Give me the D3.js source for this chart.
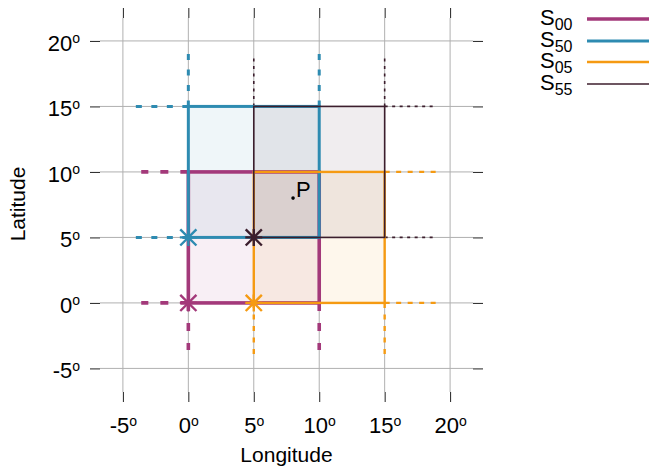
<!DOCTYPE html>
<html>
<head>
<meta charset="utf-8">
<script src="https://cdn.jsdelivr.net/npm/d3@7"></script>
<style>
	body { margin: 0; background: #fff; }
	svg text { font-family: "Liberation Sans", Arial, sans-serif; fill: #000; }
</style>
</head>
<body>
<div id="chart"></div>
<script>
// Data
const seriesNames = ['S', 'S', 'S', 'S']
const seriesSubs = ['00', '50', '05', '55']
const cellLon = [0, 0, 5, 5]      // lower-left corner longitude
const cellLat = [0, 5, 0, 5]      // lower-left corner latitude
const cellSize = 10
const extSideX = ['left', 'left', 'right', 'right']
const extSideY = ['down', 'up', 'down', 'up']
const extLength = [3.6, 4.1, 4, 3.8]
const pointP = { lon: 8, lat: 8, label: 'P' }
const tickValues = [-5, 0, 5, 10, 15, 20]

// Styles
const colors = ['#a3397a', '#2e8bb1', '#f59a12', '#3c1e2d']
const widths = [3.6, 3, 2.4, 1.6]
const dashes = ['8,12', '6,9.5', '5,6.5', '3,4.5']
const fillOpacity = 0.08

// Chart dimensions
const chartWidth = 649
const chartHeight = 470
const plotLeft = 100, plotRight = 473, plotTop = 18, plotBottom = 392

const scaleX = d3.scaleLinear().domain([-6.75, 21.75]).range([plotLeft, plotRight])
const scaleY = d3.scaleLinear().domain([-6.8, 21.75]).range([plotBottom, plotTop])

const svg = d3.select('#chart').append('svg')
	.attr('width', chartWidth)
	.attr('height', chartHeight)

// Grid
svg.append('g').selectAll('line')
	.data(tickValues).enter().append('line')
	.attr('x1', d => scaleX(d)).attr('x2', d => scaleX(d))
	.attr('y1', plotTop).attr('y2', plotBottom)
	.attr('stroke', '#b0b0b0').attr('stroke-width', 1)
svg.append('g').selectAll('line')
	.data(tickValues).enter().append('line')
	.attr('y1', d => scaleY(d)).attr('y2', d => scaleY(d))
	.attr('x1', plotLeft).attr('x2', plotRight)
	.attr('stroke', '#b0b0b0').attr('stroke-width', 1)

// Axes (outward ticks, no border)
function addDegree(sel) {
	sel.selectAll('.tick text').each(function(d) {
		let t = d3.select(this)
		t.text(null)
		t.append('tspan').text(d)
		t.append('tspan').text('o').attr('font-size', '14px').attr('dy', '-7.5')
	})
}
let axL = svg.append('g').attr('transform', `translate(${plotLeft},0)`)
	.call(d3.axisLeft(scaleY).tickValues(tickValues).tickSize(10))
axL.selectAll('.tick text').attr('font-size', '22px').attr('dy', null).attr('y', 9.5).attr('x', -20)
addDegree(axL)
let axR = svg.append('g').attr('transform', `translate(${plotRight},0)`)
	.call(d3.axisRight(scaleY).tickValues(tickValues).tickSize(10).tickFormat(''))
let axT = svg.append('g').attr('transform', `translate(0,${plotTop})`)
	.call(d3.axisTop(scaleX).tickValues(tickValues).tickSize(10).tickFormat(''))
let axB = svg.append('g').attr('transform', `translate(0,${plotBottom})`)
	.call(d3.axisBottom(scaleX).tickValues(tickValues).tickSize(10))
axB.selectAll('.tick text').attr('font-size', '22px').attr('dy', null).attr('y', 41)
addDegree(axB)
svg.selectAll('.domain').remove()
svg.selectAll('.tick line').attr('stroke', '#222')
svg.selectAll('.tick text').attr('font-family', '"Liberation Sans", Arial, sans-serif').attr('fill', '#000')

// Axis titles
svg.append('text').attr('x', (plotLeft + plotRight) / 2).attr('y', 462)
	.attr('text-anchor', 'middle').attr('font-size', '21px').text('Longitude')
svg.append('text').attr('transform', `translate(25,204) rotate(-90)`)
	.attr('text-anchor', 'middle').attr('font-size', '21px').text('Latitude')

// Cell fills
let idx = d3.range(seriesSubs.length)
svg.append('g').selectAll('rect')
	.data(idx).enter().append('rect')
	.attr('x', i => scaleX(cellLon[i]))
	.attr('y', i => scaleY(cellLat[i] + cellSize))
	.attr('width', i => scaleX(cellLon[i] + cellSize) - scaleX(cellLon[i]))
	.attr('height', i => scaleY(cellLat[i]) - scaleY(cellLat[i] + cellSize))
	.attr('fill', i => colors[i])
	.attr('fill-opacity', fillOpacity)

// Dashed extensions
idx.forEach((i) => {
	let segs = []
	let x0 = cellLon[i], x1 = cellLon[i] + cellSize
	let y0 = cellLat[i], y1 = cellLat[i] + cellSize
	// horizontal extensions along bottom and top edges
	;[y0, y1].forEach((lat) => {
		if (extSideX[i] == 'left') segs.push([x0, lat, x0 - extLength[i], lat])
		else segs.push([x1, lat, x1 + extLength[i], lat])
	})
	// vertical extensions along left and right edges
	;[x0, x1].forEach((lon) => {
		if (extSideY[i] == 'down') segs.push([lon, y0, lon, y0 - extLength[i]])
		else segs.push([lon, y1, lon, y1 + extLength[i]])
	})
	svg.append('g').selectAll('line')
		.data(segs).enter().append('line')
		.attr('x1', s => scaleX(s[0])).attr('y1', s => scaleY(s[1]))
		.attr('x2', s => scaleX(s[2])).attr('y2', s => scaleY(s[3]))
		.attr('stroke', colors[i])
		.attr('stroke-width', widths[i])
		.attr('stroke-dasharray', dashes[i])
})

// Cell outlines
svg.append('g').selectAll('rect')
	.data(idx).enter().append('rect')
	.attr('x', i => scaleX(cellLon[i]))
	.attr('y', i => scaleY(cellLat[i] + cellSize))
	.attr('width', i => scaleX(cellLon[i] + cellSize) - scaleX(cellLon[i]))
	.attr('height', i => scaleY(cellLat[i]) - scaleY(cellLat[i] + cellSize))
	.attr('fill', 'none')
	.attr('stroke', i => colors[i])
	.attr('stroke-width', i => widths[i])

// Star markers at the cell origins
const starR = 8.5
idx.forEach((i) => {
	let cx = scaleX(cellLon[i]), cy = scaleY(cellLat[i])
	let d = starR * 0.95
	let p = `M${cx - starR},${cy}H${cx + starR}M${cx},${cy - starR}V${cy + starR}` +
		`M${cx - d},${cy - d}L${cx + d},${cy + d}M${cx - d},${cy + d}L${cx + d},${cy - d}`
	svg.append('path').attr('d', p)
		.attr('stroke', colors[i]).attr('stroke-width', 2.4).attr('fill', 'none')
})

// Point P
svg.append('circle')
	.attr('cx', scaleX(pointP.lon)).attr('cy', scaleY(pointP.lat))
	.attr('r', 1.8).attr('fill', '#000')
svg.append('text')
	.attr('x', scaleX(pointP.lon) + 3).attr('y', scaleY(pointP.lat) - 1)
	.attr('font-size', '22px').text(pointP.label)

// Legend
const legendY = [19, 41, 62, 84]
let leg = svg.append('g')
idx.forEach((i) => {
	let t = leg.append('text').attr('x', 540).attr('y', legendY[i] + 6).attr('font-size', '22px')
	t.append('tspan').text(seriesNames[i])
	t.append('tspan').text(seriesSubs[i]).attr('font-size', '16px').attr('dy', 5)
	leg.append('line')
		.attr('x1', 587).attr('x2', 660)
		.attr('y1', legendY[i]).attr('y2', legendY[i])
		.attr('stroke', colors[i]).attr('stroke-width', widths[i])
})
</script>
</body>
</html>
